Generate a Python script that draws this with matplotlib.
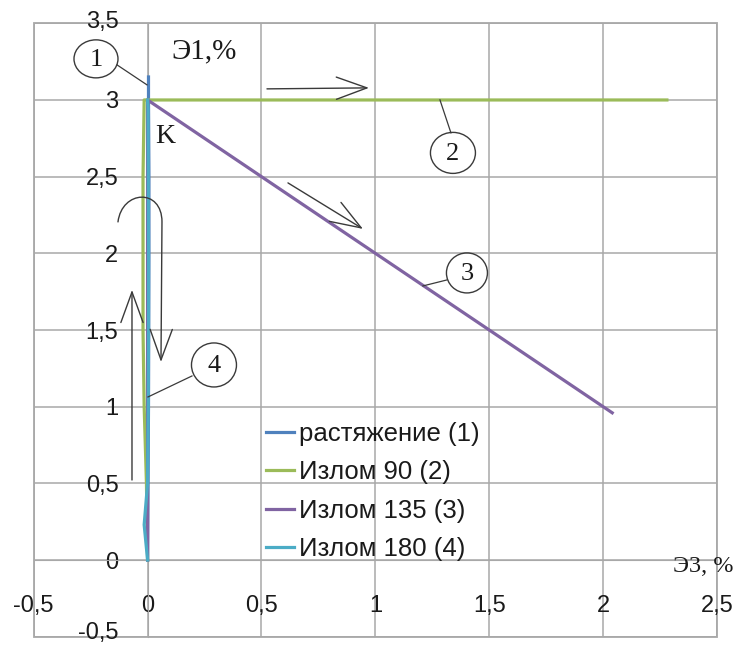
import matplotlib
matplotlib.use("Agg")
import matplotlib.pyplot as plt
from matplotlib.patches import Ellipse, FancyArrowPatch, Rectangle
from matplotlib.path import Path
from matplotlib.ticker import FuncFormatter
from matplotlib.transforms import ScaledTranslation

# ---- data -------------------------------------------------------------
names = ["растяжение (1)", "Излом 90 (2)", "Излом 135 (3)", "Излом 180 (4)"]
colors = ["#4F81BD", "#9BBB59", "#8064A2", "#4BACC6"]

s1_x = [0.0, 0.002, 0.004, 0.005, 0.006, 0.006, 0.004, 0.004]
s1_y = [0.0, 0.5, 1.0, 1.5, 2.0, 2.5, 3.0, 3.15]

s2_x = [0.0, -0.005, -0.015, -0.02, -0.02, -0.02, -0.015, 0.5, 1.0, 1.5, 2.0, 2.28]
s2_y = [0.0, 0.5, 1.0, 1.5, 2.0, 2.5, 3.0, 3.0, 3.0, 3.0, 3.0, 3.0]

s3_x = [0.0, 0.0, 0.0, 0.5, 1.0, 1.5, 2.04]
s3_y = [0.0, 1.5, 3.0, 2.5, 2.0, 1.5, 0.96]

s4_x = [0.0, -0.015, 0.0, 0.003, 0.004, 0.004, 0.003, 0.002, 0.0]
s4_y = [0.0, 0.23, 0.5, 1.0, 1.5, 2.0, 2.5, 2.95, 3.0]

x_ticks = [-0.5, 0, 0.5, 1, 1.5, 2, 2.5]
y_ticks = [-0.5, 0, 0.5, 1, 1.5, 2, 2.5, 3, 3.5]

# ---- figure -----------------------------------------------------------
W, H = 739, 645
fig = plt.figure(figsize=(W / 100, H / 100), dpi=100)
ax = fig.add_axes([33.7 / W, 1 - 636.7 / H, (717 - 33.7) / W, (636.7 - 23.3) / H])
ax.set_xlim(-0.5, 2.5)
ax.set_ylim(-0.5, 3.5)

# reference-pixel -> data helper (for annotations only)
X0, XS, Y0, YS = 147.6, 227.8, 560.0, 153.3
def P(px, py):
    return ((px - X0) / XS, (Y0 - py) / YS)

grid_c = "#a8a8a8"
ax.set_xticks(x_ticks)
ax.set_yticks(y_ticks)
ax.grid(True, color=grid_c, lw=1.1)
ax.set_axisbelow(True)
for s in ["top", "right"]:
    ax.spines[s].set_visible(False)
ax.spines["left"].set_position(("data", 0))
ax.spines["bottom"].set_position(("data", 0))
ax.spines["left"].set_color(grid_c)
ax.spines["bottom"].set_color(grid_c)
ax.add_patch(Rectangle((0, 0), 1, 1, transform=ax.transAxes, fill=False,
                       edgecolor=grid_c, lw=1.3, clip_on=False, zorder=0.5))

fmt = FuncFormatter(lambda v, p: f"{v:g}".replace(".", ","))
ax.xaxis.set_major_formatter(fmt)
ax.yaxis.set_major_formatter(fmt)
ax.tick_params(axis="both", length=0, colors="#1a1a1a")
ax.tick_params(axis="x", pad=25)
ax.tick_params(axis="y", pad=21)
for lab in ax.get_xticklabels() + ax.get_yticklabels():
    lab.set_fontfamily("Liberation Sans")
    lab.set_fontsize(17)
ylabs = ax.get_yticklabels()
ylabs[0].set_transform(ylabs[0].get_transform() + ScaledTranslation(0, 6 / 100, fig.dpi_scale_trans))
ylabs[-1].set_transform(ylabs[-1].get_transform() + ScaledTranslation(0, 4 / 100, fig.dpi_scale_trans))

# ---- series -----------------------------------------------------------
lw = 2.3
ax.plot(s1_x, s1_y, color=colors[0], lw=lw, label=names[0], zorder=3)
ax.plot(s2_x, s2_y, color=colors[1], lw=lw, label=names[1], zorder=3)
ax.plot(s3_x, s3_y, color=colors[2], lw=lw, label=names[2], zorder=3)
ax.plot(s4_x, s4_y, color=colors[3], lw=lw, label=names[3], zorder=3)

leg = ax.legend(loc="upper left", bbox_to_anchor=(266 / W, 1 - 422 / H),
                bbox_transform=fig.transFigure, frameon=False,
                prop={"family": "Liberation Sans", "size": 18.5},
                handlelength=1.1, handletextpad=0.2, labelspacing=0.56,
                borderpad=0.0, borderaxespad=0.0)
for l in leg.get_lines():
    l.set_linewidth(2.3)
for t in leg.get_texts():
    t.set_color("#1a1a1a")

# ---- annotations ------------------------------------------------------
ann_c = "#3a3a3a"
txt_c = "#1a1a1a"
serif = ["Liberation Serif", "DejaVu Serif"]

ax.text(*P(204, 52), "Э1,%", fontsize=21, family=serif, ha="center", va="center", color=txt_c)
ax.text(*P(165, 137), "K", fontsize=20, family=serif, ha="center", va="center", color=txt_c)
ax.text(*P(703, 566), "Э3, %", fontsize=17.5, family=serif, ha="center", va="center", color=txt_c)

circles = [((96, 59), 44, 38, "1", (117, 65), (147, 85)),
           ((453, 153), 45, 41, "2", (451, 133), (440, 100)),
           ((467, 273), 41, 40, "3", (447, 280), (423, 286)),
           ((214, 365), 45, 44, "4", (192, 376), (148, 397))]
for (cx, cy), w, h, t, a, b in circles:
    ax.add_patch(Ellipse(P(cx, cy), w / XS, h / YS, fill=False, edgecolor=ann_c, lw=1.0, zorder=4))
    ax.text(*P(cx, cy + 1), t, fontsize=19, family=serif, ha="center", va="center", color=txt_c, zorder=4)
    (x1, y1), (x2, y2) = P(*a), P(*b)
    ax.plot([x1, x2], [y1, y2], color=ann_c, lw=0.9, zorder=4)

astyle = "->,head_length=1.1,head_width=0.4"
for tail, head in [((267, 89), (369, 88)), ((288, 183), (363, 229)), ((132, 480), (132, 290))]:
    ax.add_patch(FancyArrowPatch(P(*tail), P(*head), arrowstyle=astyle, mutation_scale=20,
                                 color=ann_c, lw=1.0, zorder=4, shrinkA=0, shrinkB=0))

verts = [P(118, 222), P(122, 190), P(162, 188), P(162, 222), P(161, 362)]
codes = [Path.MOVETO, Path.CURVE4, Path.CURVE4, Path.CURVE4, Path.LINETO]
ax.add_patch(FancyArrowPatch(path=Path(verts, codes), arrowstyle=astyle, mutation_scale=20,
                             color=ann_c, lw=1.0, zorder=4))

fig.savefig("out.png", dpi=100)
